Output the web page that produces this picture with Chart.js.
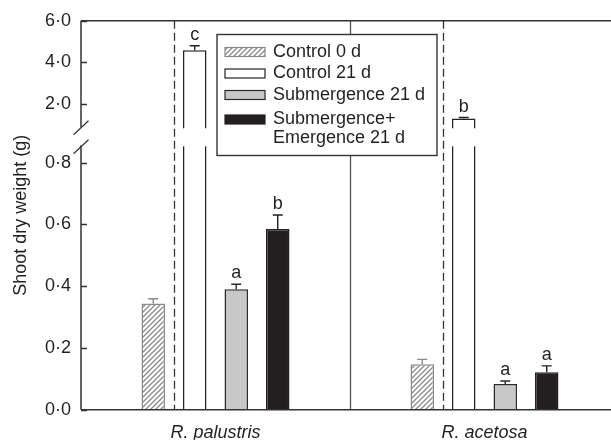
<!DOCTYPE html>
<html>
<head>
<meta charset="utf-8">
<script src="https://cdn.jsdelivr.net/npm/chart.js@4.4.1/dist/chart.umd.min.js"></script>
<style>
  html, body { margin: 0; padding: 0; background: #fff; overflow: hidden; }
  #wrap { width: 611px; height: 442px; overflow: hidden; }
  #box { width: 630px; height: 442px; }
</style>
</head>
<body>
<div id="wrap"><div id="box"><canvas id="grafico"></canvas></div></div>
<script>
// =============================
// Dados
// =============================
const species = ["R. palustris", "R. acetosa"];
const seriesNames = ["Control 0 d", "Control 21 d", "Submergence 21 d", ["Submergence+", "Emergence 21 d"]];

const control0 = [0.344, 0.147];
const control21 = [4.58, 1.30];
const submerged = [0.390, 0.083];
const emerged = [0.585, 0.121];

const control0Err = [0.015, 0.016];
const control21Err = [0.22, 0.05];
const submergedErr = [0.016, 0.010];
const emergedErr = [0.045, 0.021];

const control0Sig = ["", ""];
const control21Sig = ["c", "b"];
const submergedSig = ["a", "a"];
const emergedSig = ["b", "a"];

const yTicks = [0, 0.2, 0.4, 0.6, 0.8, 2, 4, 6];
const yTickLabels = ["0·0", "0·2", "0·4", "0·6", "0·8", "2·0", "4·0", "6·0"];

const FONT = "'Liberation Sans', Arial, Helvetica, sans-serif";
const INK = "#231f20";
const AXIS = "#333";

// =============================
// Eixo com quebra (0–0.8 | 2–6)
// =============================
class BrokenScale extends Chart.LinearScale {
  buildTicks() {
    return yTicks.map(v => ({ value: v }));
  }
  toFraction(v) {
    const o = this.options;
    if (v <= o.breakLow) return v / o.breakLow * o.lowerShare;
    return o.upperStart + (v - o.breakHigh) / (this.max - o.breakHigh) * (1 - o.upperStart);
  }
  getPixelForValue(v) {
    return this.bottom - this.toFraction(v) * (this.bottom - this.top);
  }
}
BrokenScale.id = "broken";
BrokenScale.defaults = Chart.LinearScale.defaults;
Chart.register(BrokenScale);

// hachura do "Control 0 d"
function makeHatch() {
  const s = 5;
  const c = document.createElement("canvas");
  c.width = s; c.height = s;
  const g = c.getContext("2d");
  g.fillStyle = "#fff";
  g.fillRect(0, 0, s, s);
  g.strokeStyle = "#8a8a8a";
  g.lineWidth = 1.3;
  g.beginPath();
  g.moveTo(0, s); g.lineTo(s, 0);
  g.moveTo(-s, s); g.lineTo(s, -s);
  g.moveTo(0, 2 * s); g.lineTo(2 * s, 0);
  g.stroke();
  return g.createPattern(c, "repeat");
}
const hatch = makeHatch();

const errors = [control0Err, control21Err, submergedErr, emergedErr];
const letters = [control0Sig, control21Sig, submergedSig, emergedSig];

// =============================
// Decoração: linhas, barras de erro, quebra, legenda
// =============================
const decor = {
  id: "decor",
  beforeDatasetsDraw(chart) {
    const { ctx, chartArea: a, scales: { x } } = chart;
    const m0 = chart.getDatasetMeta(0), m1 = chart.getDatasetMeta(1);
    ctx.save();
    ctx.strokeStyle = AXIS;
    ctx.lineWidth = 1.3;
    ctx.setLineDash([8, 4]);
    for (let i = 0; i < species.length; i++) {
      const dx = Math.round((m0.data[i].x + m1.data[i].x) / 2) + 0.5;
      ctx.beginPath(); ctx.moveTo(dx, a.top); ctx.lineTo(dx, a.bottom); ctx.stroke();
    }
    ctx.setLineDash([]);
    ctx.strokeStyle = "#555";
    const mid = Math.round((x.getPixelForTick(0) + x.getPixelForTick(1)) / 2) + 0.5;
    ctx.beginPath(); ctx.moveTo(mid, a.top); ctx.lineTo(mid, a.bottom); ctx.stroke();
    ctx.restore();
  },
  afterDatasetsDraw(chart) {
    const { ctx, chartArea: a, scales: { y } } = chart;
    const yo = y.options;
    ctx.save();

    // barras de erro e letras
    chart.data.datasets.forEach((ds, di) => {
      const meta = chart.getDatasetMeta(di);
      meta.data.forEach((bar, i) => {
        const v = ds.data[i];
        const top = y.getPixelForValue(v);
        const cap = y.getPixelForValue(v + errors[di][i]);
        ctx.strokeStyle = ds.borderColor;
        ctx.lineWidth = 1.4;
        ctx.beginPath();
        ctx.moveTo(bar.x, top); ctx.lineTo(bar.x, cap);
        ctx.moveTo(bar.x - 5, cap); ctx.lineTo(bar.x + 5, cap);
        ctx.stroke();
        if (letters[di][i]) {
          ctx.fillStyle = INK;
          ctx.font = "18px " + FONT;
          ctx.textAlign = "center";
          ctx.textBaseline = "alphabetic";
          ctx.fillText(letters[di][i], bar.x, cap - 6);
        }
      });
    });

    // quebra do eixo
    const breakY = (y.getPixelForValue(yo.breakLow) + y.getPixelForValue(yo.breakHigh)) / 2 + 4;
    chart.data.datasets.forEach((ds, di) => {
      chart.getDatasetMeta(di).data.forEach((bar, i) => {
        if (ds.data[i] > yo.breakLow) {
          ctx.fillStyle = "#fff";
          ctx.fillRect(bar.x - bar.width / 2 - 2, breakY - 9, bar.width + 4, 18);
        }
      });
    });

    // eixos
    ctx.strokeStyle = AXIS;
    ctx.lineWidth = 1.5;
    ctx.beginPath();
    ctx.moveTo(a.left, a.top); ctx.lineTo(a.right, a.top);
    ctx.moveTo(a.left, a.bottom); ctx.lineTo(a.right, a.bottom);
    ctx.moveTo(a.left, a.top); ctx.lineTo(a.left, breakY - 10);
    ctx.moveTo(a.left, breakY + 8); ctx.lineTo(a.left, a.bottom);
    ctx.stroke();
    ctx.lineWidth = 1.2;
    ctx.beginPath();
    [breakY - 9.5, breakY + 9.5].forEach(c => {
      ctx.moveTo(a.left - 7.5, c + 7); ctx.lineTo(a.left + 7.5, c - 7);
    });
    ctx.stroke();
    // marcas dos ticks para dentro
    ctx.lineWidth = 1.3;
    ctx.beginPath();
    y.ticks.forEach(t => {
      const py = Math.round(y.getPixelForValue(t.value)) + 0.5;
      ctx.moveTo(a.left, py); ctx.lineTo(a.left + 6, py);
    });
    ctx.stroke();

    // legenda
    const L = { x: 217, y: 34.5, w: 220, h: 121 };
    ctx.fillStyle = "#fff";
    ctx.fillRect(L.x, L.y, L.w, L.h);
    ctx.strokeStyle = AXIS;
    ctx.lineWidth = 1.4;
    ctx.strokeRect(L.x, L.y, L.w, L.h);
    const rows = [52, 73.5, 95, 119.5];
    ctx.font = "18px " + FONT;
    ctx.textAlign = "left";
    ctx.textBaseline = "middle";
    chart.data.datasets.forEach((ds, di) => {
      const ry = rows[di];
      ctx.fillStyle = ds.backgroundColor;
      ctx.fillRect(225, ry - 4.5, 40, 9);
      ctx.strokeStyle = ds.borderColor;
      ctx.lineWidth = 1.2;
      ctx.strokeRect(225, ry - 4.5, 40, 9);
      ctx.fillStyle = INK;
      const name = seriesNames[di];
      if (Array.isArray(name)) {
        name.forEach((t, k) => ctx.fillText(t, 273, ry + k * 18.8));
      } else {
        ctx.fillText(name, 273, ry);
      }
    });
    ctx.restore();
  }
};

// =============================
// Gráfico
// =============================
const ctx = document.getElementById("grafico").getContext("2d");

new Chart(ctx, {
  type: "bar",
  data: {
    labels: species,
    datasets: [
      { label: seriesNames[0], data: control0, backgroundColor: hatch, borderColor: "#8a8a8a", borderWidth: 1.5 },
      { label: seriesNames[1], data: control21, backgroundColor: "#fff", borderColor: "#222", borderWidth: 1.5 },
      { label: seriesNames[2], data: submerged, backgroundColor: "#c8c8c8", borderColor: "#2a2a2a", borderWidth: 1.5 },
      { label: seriesNames[3].join(" "), data: emerged, backgroundColor: "#231f20", borderColor: "#231f20", borderWidth: 1.5 }
    ]
  },
  options: {
    responsive: true,
    maintainAspectRatio: false,
    animation: false,
    events: [],
    datasets: { bar: { categoryPercentage: 0.617, barPercentage: 0.566 } },
    layout: { padding: { left: 0, right: 11, top: 20.7, bottom: 2.3 } },
    plugins: { legend: { display: false }, tooltip: { enabled: false } },
    scales: {
      x: {
        grid: { display: false, drawTicks: false },
        border: { display: false },
        ticks: { font: { family: FONT, size: 18, style: "italic" }, color: INK, padding: 12 },
        afterFit: s => { s.height = 30; }
      },
      y: {
        type: "broken",
        min: 0,
        max: 6,
        breakLow: 0.8,
        breakHigh: 2,
        lowerShare: 0.6355,
        upperStart: 0.786,
        grid: { display: false, drawTicks: false },
        border: { display: false },
        ticks: {
          autoSkip: false,
          padding: 10,
          color: INK,
          font: { family: FONT, size: 18 },
          callback: (v, i) => yTickLabels[i]
        },
        title: {
          display: true,
          text: "Shoot dry weight (g)",
          color: INK,
          font: { family: FONT, size: 18 },
          padding: { top: 10, bottom: 0 }
        },
        afterFit: s => { s.width = 81; }
      }
    }
  },
  plugins: [decor]
});
</script>
</body>
</html>
